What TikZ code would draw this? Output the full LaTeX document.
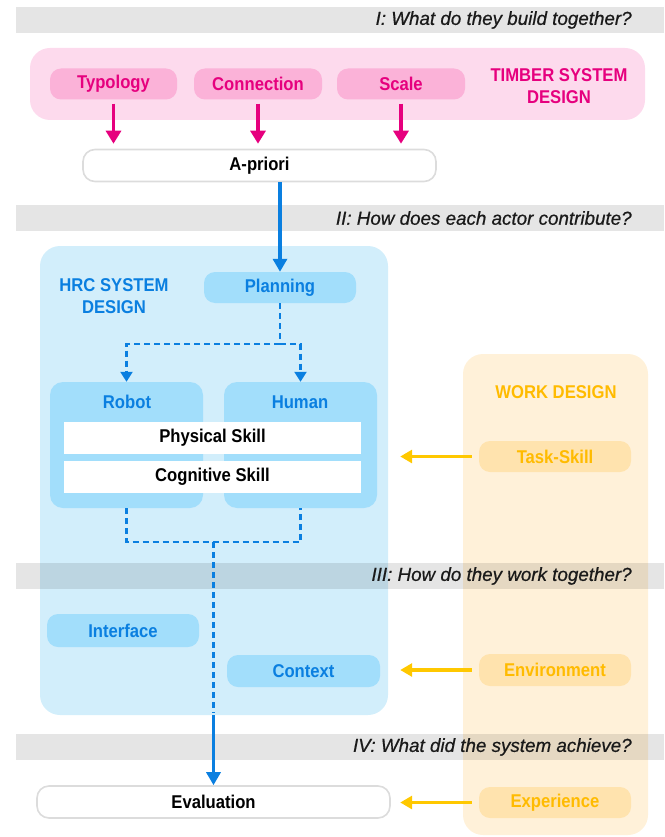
\documentclass[tikz,border=0pt]{standalone}
\usepackage{fontspec}
\setmainfont{Liberation Sans}[FakeStretch=0.9]
\newfontfamily\bandfont{Liberation Sans}[FakeBold=0.6]
\usetikzlibrary{arrows.meta}

\definecolor{bandText}{HTML}{1A1A1A}
\definecolor{timberText}{HTML}{E6007E}
\definecolor{timberBg}{HTML}{FDDAED}
\definecolor{timberPill}{HTML}{FBB2D8}
\definecolor{hrcText}{HTML}{0A7FE0}
\definecolor{hrcBg}{HTML}{D2EEFB}
\definecolor{hrcPill}{HTML}{A2DEFB}
\definecolor{workText}{HTML}{FFBB00}
\definecolor{workBg}{HTML}{FFF1D9}
\definecolor{workPill}{HTML}{FFE3AE}
\definecolor{workArrow}{HTML}{FFC800}
\definecolor{boxBorder}{HTML}{DCDCDC}

\tikzset{
  lbl/.style={font=\fontsize{18.5}{22}\selectfont\bfseries},
  container/.style={inner sep=0pt, rounded corners=20pt},
  pill/.style={lbl, inner sep=0pt, rounded corners=11pt, minimum height=31pt},
  band/.style={fill=black, fill opacity=0.1, inner sep=0pt, minimum width=648pt, minimum height=26pt},
  bandlabel/.style={anchor=east, text=bandText, font=\bandfont\fontsize{18.8}{22}\selectfont\itshape},
  whitebox/.style={lbl, fill=white, draw=boxBorder, line width=1.6pt, rounded corners=12pt, inner sep=0pt, minimum height=32pt},
  skillbar/.style={lbl, fill=white, inner sep=0pt, minimum width=297pt, minimum height=32pt},
  marrow/.style={draw=timberText, line width=3.5pt, -{Triangle[width=15pt,length=13pt]}},
  barrow/.style={draw=hrcText, line width=3.5pt, -{Triangle[width=14pt,length=13pt]}},
  dline/.style={draw=hrcText, line width=2.2pt, dash pattern=on 6pt off 4pt},
  darrow/.style={dline, -{Triangle[width=12pt,length=10pt]}},
  yarrow/.style={draw=workArrow, line width=3.5pt, -{Triangle[width=13pt,length=12pt]}}
}

\begin{document}
\begin{tikzpicture}[x=1pt, y=-1pt]
\useasboundingbox (0,0) rectangle (664,837);

% ---------- containers ----------
\node[container, fill=timberBg, minimum width=615pt, minimum height=72pt] (timber) at (337.5,84) {};
\node[container, fill=hrcBg, minimum width=348pt, minimum height=469pt] (hrc) at (214,480.5) {};
\node[container, fill=workBg, minimum width=185pt, minimum height=481pt] (work) at (555.5,594.5) {};

% ---------- timber system design ----------
\node[pill, fill=timberPill, text=timberText, minimum width=127pt] (typ) at (113.5,84) {Typology};
\node[pill, fill=timberPill, text=timberText, minimum width=128pt] (con) at (258,84) {Connection};
\node[pill, fill=timberPill, text=timberText, minimum width=128pt] (sca) at (401,84) {Scale};
\node[lbl, text=timberText, align=center, font=\fontsize{18.5}{22}\selectfont\bfseries] (timbertitle) at (559,86) {TIMBER SYSTEM\\DESIGN};

\node[whitebox, minimum width=353pt] (apriori) at (259.5,165.5) {A-priori};

% ---------- HRC system design ----------
\node[lbl, text=hrcText, align=center] (hrctitle) at (114,296.5) {HRC SYSTEM\\DESIGN};
\node[pill, fill=hrcPill, text=hrcText, minimum width=152pt] (plan) at (280,287.5) {Planning};

\node[fill=hrcPill, rounded corners=13pt, inner sep=0pt, minimum width=153pt, minimum height=126pt] (robot) at (126.5,445) {};
\node[fill=hrcPill, rounded corners=13pt, inner sep=0pt, minimum width=153pt, minimum height=126pt] (human) at (300.5,445) {};
\node[lbl, text=hrcText] (robotlbl) at (127,402) {Robot};
\node[lbl, text=hrcText] (humanlbl) at (300,402) {Human};
\node[skillbar] (phys) at (212.5,437.5) {Physical Skill};
\node[skillbar] (cogn) at (212.5,477) {Cognitive Skill};

\node[pill, fill=hrcPill, text=hrcText, minimum width=152pt, minimum height=33pt] (iface) at (123,630.5) {Interface};
\node[pill, fill=hrcPill, text=hrcText, minimum width=153pt, minimum height=32pt] (ctx) at (303.5,671) {Context};

% ---------- work design ----------
\node[lbl, text=workText] (worktitle) at (556,392) {WORK DESIGN};
\node[pill, fill=workPill, text=workText, minimum width=152pt] (task) at (555,456.5) {Task-Skill};
\node[pill, fill=workPill, text=workText, minimum width=152pt, minimum height=32pt] (env) at (555,670) {Environment};
\node[pill, fill=workPill, text=workText, minimum width=152pt] (exper) at (555,802.5) {Experience};

\node[whitebox, minimum width=353pt] (evalbox) at (213.5,802) {Evaluation};

% ---------- question bands ----------
\node[band] (band1) at (340,20) {};
\node[band] (band2) at (340,218) {};
\node[band] (band3) at (340,576) {};
\node[band] (band4) at (340,747) {};
\node[bandlabel] (q1) at ([xshift=-29pt]band1.east) {I: What do they build together?};
\node[bandlabel] (q2) at ([xshift=-29pt]band2.east) {II: How does each actor contribute?};
\node[bandlabel] (q3) at ([xshift=-29pt]band3.east) {III: How do they work together?};
\node[bandlabel] (q4) at ([xshift=-29pt]band4.east) {IV: What did the system achieve?};

% ---------- connectors ----------
\draw[marrow, shorten <=4pt, shorten >=5pt] (typ.south) -- (typ.south |- apriori.north);
\draw[marrow, shorten <=4pt, shorten >=5pt] (con.south) -- (con.south |- apriori.north);
\draw[marrow, shorten <=4pt, shorten >=5pt] (sca.south) -- (sca.south |- apriori.north);

\draw[barrow] (plan.north |- apriori.south) -- (plan.north);

\draw[dline] (plan.south) -- ++(0,41) coordinate (split);
\draw[darrow] (split) -| (robot.north);
\draw[darrow] (split) -| (human.north);

\draw[dline] (robot.south) -- ++(0,34) coordinate (joinL) -| (human.south);
\coordinate (join) at (evalbox.north |- joinL);
\coordinate (exitpt) at (evalbox.north |- hrc.south);
\draw[dline] (join) -- ([yshift=2pt]exitpt);
\draw[barrow] (exitpt) -- (evalbox.north);

\draw[yarrow, shorten <=7pt] (task.west) -- ([xshift=12pt]task.west -| hrc.east);
\draw[yarrow, shorten <=7pt] (env.west) -- ([xshift=12pt]env.west -| hrc.east);
\draw[yarrow, shorten <=7pt] (exper.west) -- ([xshift=12pt]exper.west -| hrc.east);
\end{tikzpicture}
\end{document}
